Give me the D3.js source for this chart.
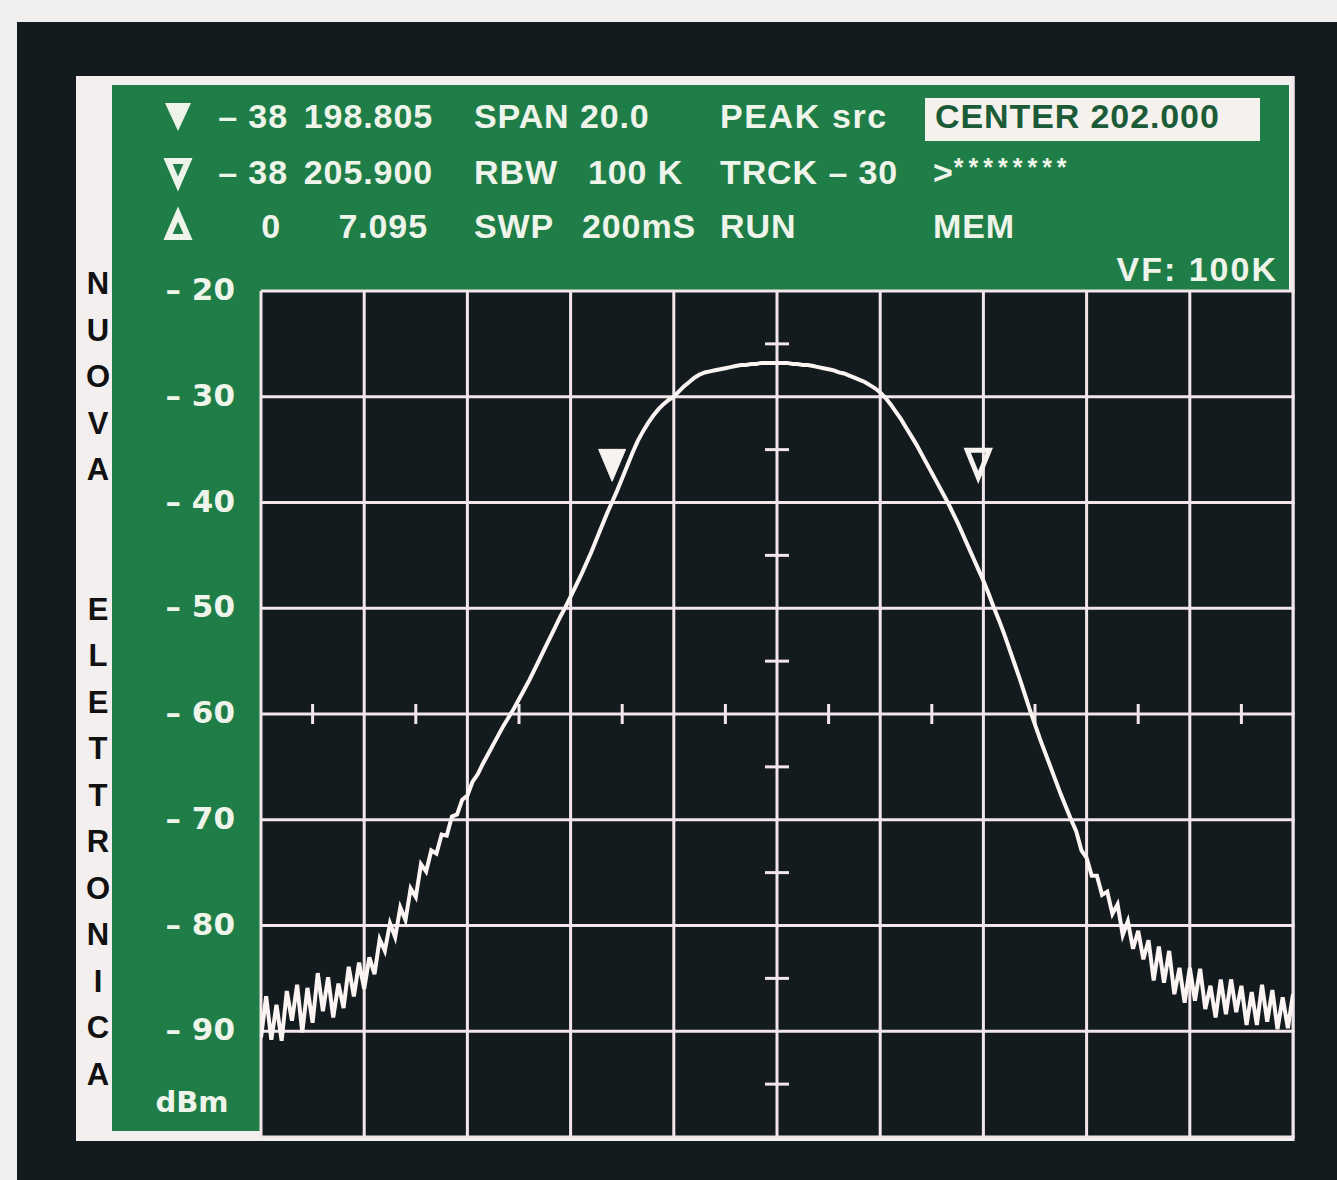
<!DOCTYPE html>
<html><head><meta charset="utf-8">
<script src="https://cdn.jsdelivr.net/npm/d3@7"></script>
<style>
html,body{margin:0;padding:0;background:#f1f0ef;}
svg{display:block;}
</style></head><body>
<svg id="screen" width="1337" height="1180"></svg>
<script>
// ---- analyzer sweep: 192 MHz .. 212 MHz, one reading every 0.1 MHz (dBm) ----
const sweepStart = 192.0;
const sweepStop = 212.0;
const sweepStep = 0.1;
const traceLevels = [
  -90.6, -86.7, -90.8, -87.5, -90.9, -86.2, -89.0, -85.6, -90.1, -85.9,
  -89.2, -84.5, -88.1, -84.9, -88.7, -85.5, -87.8, -83.9, -86.7, -83.5,
  -86.0, -83.0, -84.6, -81.3, -82.4, -79.8, -81.1, -78.3, -79.5, -76.5,
  -77.3, -74.2, -74.9, -72.9, -73.2, -71.4, -71.5, -69.7, -69.5, -68.1,
  -67.7, -66.4, -65.7, -64.7, -63.8, -62.9, -62.0, -61.1, -60.3, -59.5,
  -58.6, -57.7, -56.8, -55.8, -54.8, -53.8, -52.8, -51.8, -50.8, -49.9,
  -48.9, -47.9, -46.9, -45.8, -44.7, -43.5, -42.3, -41.1, -40.0, -38.9,
  -37.7, -36.5, -35.3, -34.2, -33.3, -32.5, -31.8, -31.2, -30.7, -30.3,
  -30.0, -29.5, -29.0, -28.6, -28.2, -27.9, -27.7, -27.6, -27.5, -27.4,
  -27.3, -27.2, -27.1, -27.0, -27.0, -26.9, -26.9, -26.8, -26.8, -26.8,
  -26.8, -26.8, -26.8, -26.9, -26.9, -27.0, -27.0, -27.1, -27.2, -27.3,
  -27.4, -27.5, -27.7, -27.8, -28.0, -28.2, -28.4, -28.6, -28.9, -29.2,
  -29.6, -30.1, -30.7, -31.4, -32.1, -32.9, -33.7, -34.5, -35.4, -36.3,
  -37.2, -38.1, -39.0, -39.9, -40.9, -41.9, -43.0, -44.1, -45.2, -46.3,
  -47.4, -48.6, -49.9, -51.1, -52.4, -53.8, -55.2, -56.6, -58.1, -59.6,
  -61.0, -62.4, -63.7, -65.0, -66.3, -67.6, -68.8, -70.0, -71.1, -72.9,
  -73.6, -75.3, -75.3, -77.1, -76.8, -78.9, -78.0, -80.9, -79.6, -82.2,
  -80.5, -83.2, -81.4, -85.2, -82.0, -85.4, -82.4, -86.5, -84.0, -87.3,
  -84.0, -87.1, -84.1, -87.9, -85.7, -88.7, -85.1, -88.4, -85.1, -88.2,
  -85.7, -89.4, -86.3, -89.4, -85.6, -89.1, -86.1, -89.8, -86.8, -89.7,
  -86.5
];

// graticule
const freqGrid = [192, 194, 196, 198, 200, 202, 204, 206, 208, 210, 212];
const freqMinorTicks = [193, 195, 197, 199, 201, 203, 205, 207, 209, 211];
const levelGrid = [-20, -30, -40, -50, -60, -70, -80, -90, -100];
const levelMinorTicks = [-25, -35, -45, -55, -65, -75, -85, -95];
const levelLabelValues = [-20, -30, -40, -50, -60, -70, -80, -90];
const levelLabelTexts = ["– 20", "– 30", "– 40", "– 50", "– 60", "– 70", "– 80", "– 90"];
const centerFreq = 202.0;
const refLevel = -60;

// markers
const markerFreqs = [198.805, 205.900];
const markerLevels = [-38, -38];
const markerStyles = ["filled", "open"];

// readout panel
const readoutIcons = ["filled-down", "open-down", "open-up"];
const readoutLevel = ["– 38", "– 38", "0"];
const readoutFreq = ["198.805", "205.900", "7.095"];
const readoutKey = ["SPAN 20.0", "RBW", "SWP"];
const readoutVal = ["", "100 K", "200mS"];
const readoutMode = ["PEAK src", "TRCK – 30", "RUN"];
const readoutRight = ["CENTER 202.000", ">", "MEM"];
const commandStars = "********";
const videoFilter = "VF: 100K";
const unitLabel = "dBm";
const brandWords = ["NUOVA", "ELETTRONICA"];

// ---- drawing ----
const svg = d3.select("#screen");
const W = 1337, H = 1180;
const FONT = "'Liberation Sans', Arial, Helvetica, sans-serif";
const WIDE = "'DejaVu Sans', Verdana, sans-serif";
const INK = "#eef4ea";
const GRID = "#f2e6ea";
const DARK = "#131b1f";

const plot = {left: 261, right: 1293, top: 291, bottom: 1137};
const x = d3.scaleLinear().domain([sweepStart, sweepStop]).range([plot.left, plot.right]);
const y = d3.scaleLinear().domain([-100, -20]).range([plot.bottom, plot.top]);

// photo surround and screen bezel
svg.append("rect").attr("width", W).attr("height", H).attr("fill", "#f1f0ef");
svg.append("rect").attr("x", 17).attr("y", 22).attr("width", W - 17).attr("height", H - 22).attr("fill", DARK);

// white border + green readout panel
svg.append("rect").attr("x", 76).attr("y", 76).attr("width", plot.right + 1.5 - 76).attr("height", 1141 - 76).attr("fill", "#f3efee");
svg.append("rect").attr("x", 112).attr("y", 85).attr("width", plot.right - 4 - 112).attr("height", 1131 - 85).attr("fill", "#1f7e47");

// trace area
svg.append("rect").attr("x", plot.left).attr("y", plot.top)
  .attr("width", plot.right - plot.left).attr("height", plot.bottom - plot.top).attr("fill", DARK);

const grid = svg.append("g").attr("stroke", GRID).attr("stroke-width", 3);
grid.selectAll("line.v").data(freqGrid).join("line").attr("class", "v")
  .attr("x1", d => x(d)).attr("x2", d => x(d)).attr("y1", plot.top).attr("y2", plot.bottom + 1.5);
grid.selectAll("line.h").data(levelGrid).join("line").attr("class", "h")
  .attr("x1", plot.left).attr("x2", plot.right + 1.5).attr("y1", d => y(d)).attr("y2", d => y(d));
// right border runs up past the readout panel
grid.append("line").attr("x1", plot.right).attr("x2", plot.right).attr("y1", 76).attr("y2", plot.top);

// minor ticks on centre line and reference line
grid.selectAll("line.mt").data(levelMinorTicks).join("line").attr("class", "mt")
  .attr("x1", x(centerFreq) - 12).attr("x2", x(centerFreq) + 12)
  .attr("y1", d => y(d)).attr("y2", d => y(d));
grid.selectAll("line.ft").data(freqMinorTicks).join("line").attr("class", "ft")
  .attr("x1", d => x(d)).attr("x2", d => x(d))
  .attr("y1", y(refLevel) - 10).attr("y2", y(refLevel) + 10);

// trace
svg.append("clipPath").attr("id", "plotclip").append("rect")
  .attr("x", plot.left).attr("y", plot.top).attr("width", plot.right - plot.left).attr("height", plot.bottom - plot.top);
const line = d3.line().x((d, i) => x(sweepStart + i * sweepStep)).y(d => y(d));
svg.append("path").datum(traceLevels)
  .attr("clip-path", "url(#plotclip)")
  .attr("d", line).attr("fill", "none").attr("stroke", "#fbf4f2")
  .attr("stroke-width", 4).attr("stroke-linejoin", "miter");

// markers: downward triangles with the tip on the marker level
function tri(cx, tipY, w, h, up) {
  return up
    ? `M${cx},${tipY}L${cx + w / 2},${tipY + h}L${cx - w / 2},${tipY + h}Z`
    : `M${cx - w / 2},${tipY - h}L${cx + w / 2},${tipY - h}L${cx},${tipY}Z`;
}
markerFreqs.forEach((f, i) => {
  const open = markerStyles[i] === "open";
  svg.append("path")
    .attr("d", open ? tri(x(f), y(markerLevels[i]) - 4, 22, 27, false) : tri(x(f), y(markerLevels[i]), 27, 32, false))
    .attr("fill", open ? "none" : "#f6f3f0")
    .attr("stroke", "#f6f3f0").attr("stroke-width", open ? 5 : 1)
    .attr("stroke-linejoin", "miter");
});

// level scale
svg.append("g").selectAll("text").data(levelLabelValues).join("text")
  .attr("x", 235).attr("y", d => y(d) + 9)
  .attr("text-anchor", "end").attr("fill", INK)
  .attr("font-family", WIDE).attr("font-weight", "bold").attr("font-size", 31)
  .text((d, i) => levelLabelTexts[i]);
svg.append("text").attr("x", 192).attr("y", 1112).attr("text-anchor", "middle")
  .attr("fill", INK).attr("font-family", WIDE).attr("font-weight", "bold").attr("font-size", 29)
  .text(unitLabel);

// brand lettering down the white strip
const brandSlots = [];
brandWords[0].split("").forEach((c, k) => brandSlots.push({c, k}));
brandWords[1].split("").forEach((c, k) => brandSlots.push({c, k: k + brandWords[0].length + 2}));
svg.append("g").selectAll("text").data(brandSlots).join("text")
  .attr("x", 98).attr("y", d => 283 + d.k * 46.5 + 11)
  .attr("text-anchor", "middle").attr("fill", "#111")
  .attr("font-family", FONT).attr("font-weight", "bold").attr("font-size", 31)
  .text(d => d.c);

// readout rows
const rowBase = [128, 184, 238];
const txt = (g, xx, yy, s, anchor, ls) => g.append("text").attr("x", xx).attr("y", yy)
  .attr("text-anchor", anchor || "start").attr("fill", INK)
  .attr("font-family", FONT).attr("font-weight", "bold").attr("font-size", 34)
  .attr("letter-spacing", ls == null ? 0.9 : ls)
  .attr("xml:space", "preserve").text(s);

const hdr = svg.append("g");
rowBase.forEach((b, r) => {
  const icon = readoutIcons[r];
  if (icon === "filled-down") {
    hdr.append("path").attr("d", tri(178, b + 3, 26, 28, false)).attr("fill", INK);
  } else if (icon === "open-down") {
    hdr.append("path").attr("d", tri(178, b, 20, 23, false)).attr("fill", "none")
      .attr("stroke", INK).attr("stroke-width", 6).attr("stroke-linejoin", "miter");
  } else {
    hdr.append("path").attr("d", tri(178, b - 24, 20, 23, true)).attr("fill", "none")
      .attr("stroke", INK).attr("stroke-width", 6).attr("stroke-linejoin", "miter");
  }
  txt(hdr, r === 2 ? 281 : 288, b, readoutLevel[r], "end");
  txt(hdr, r === 2 ? 428 : 433, b, readoutFreq[r], "end");
  txt(hdr, 474, b, readoutKey[r]);
  if (readoutVal[r]) txt(hdr, r === 1 ? 588 : 582, b, readoutVal[r]);
  txt(hdr, 720, b, readoutMode[r], "start", r === 0 ? 1.6 : 0.9);
});

// centre frequency box
hdr.append("rect").attr("x", 925).attr("y", 98).attr("width", 335).attr("height", 43).attr("fill", "#f5f2ee");
hdr.append("text").attr("x", 935).attr("y", rowBase[0]).attr("fill", "#1c5b37")
  .attr("font-family", FONT).attr("font-weight", "bold").attr("font-size", 34).attr("letter-spacing", 0.9)
  .text(readoutRight[0]);
const cmd = txt(hdr, 933, rowBase[1], readoutRight[1]);
cmd.append("tspan").attr("font-size", 25).attr("letter-spacing", 5).attr("dy", -8).text(commandStars);
txt(hdr, 933, rowBase[2], readoutRight[2]);
txt(hdr, 1278, 281, videoFilter, "end", 2);
</script>
</body></html>
